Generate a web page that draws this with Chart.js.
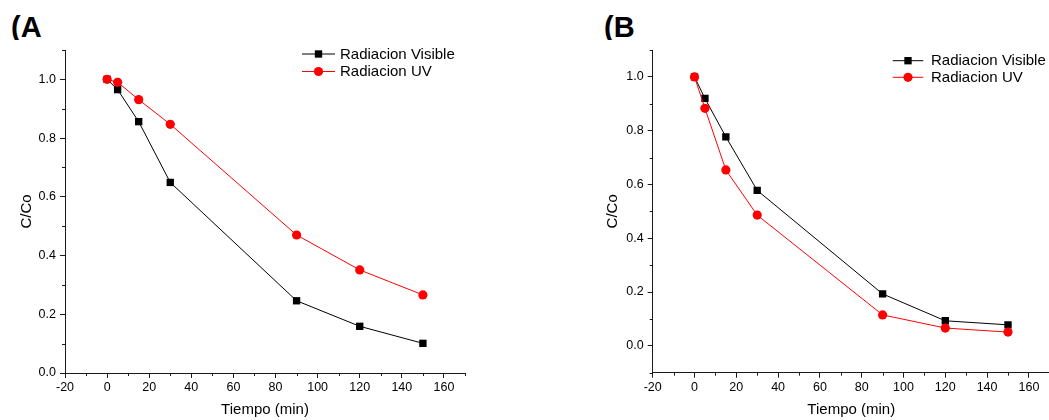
<!DOCTYPE html>
<html>
<head>
<meta charset="utf-8">
<script src="https://cdn.jsdelivr.net/npm/chart.js@4.4.1/dist/chart.umd.min.js"></script>
<style>
  html, body { margin: 0; padding: 0; background: #fff; }
  body { width: 1049px; height: 420px; position: relative; overflow: hidden; }
  canvas { position: absolute; top: 0; }
  #cA { left: 0; }
  #cB { left: 525px; }
  .plabel { position: absolute; top: 0; height: 40px; overflow: hidden;
    font-family: "Liberation Sans", Arial, sans-serif; font-weight: bold; font-size: 29px; line-height: 1; color: #000; }
  .plabel span { display: block; padding-top: 13px; }
</style>
</head>
<body>
<div class="plabel" style="left:11px;"><span>(A</span></div>
<div class="plabel" style="left:604px;"><span>(B</span></div>
<canvas id="cA" width="525" height="420"></canvas>
<canvas id="cB" width="530" height="420"></canvas>
<script>
// ---- data ----
const timeMin   = [0, 5, 15, 30, 90, 120, 150];
const visibleA  = [1.0, 0.965, 0.856, 0.649, 0.246, 0.159, 0.101];
const uvA       = [1.0, 0.990, 0.931, 0.847, 0.470, 0.351, 0.266];
const visibleB  = [1.0, 0.920, 0.777, 0.578, 0.193, 0.093, 0.078];
const uvB       = [1.0, 0.883, 0.654, 0.486, 0.115, 0.066, 0.051];
const seriesNames = ['Radiacion Visible', 'Radiacion UV'];
const xTicks      = [-20, 0, 20, 40, 60, 80, 100, 120, 140, 160];
const xMinorTicks = [-10, 10, 30, 50, 70, 90, 110, 130, 150, 170];
const yTicks      = [0.0, 0.2, 0.4, 0.6, 0.8, 1.0];
const yMinorTicksA = [0.1, 0.3, 0.5, 0.7, 0.9, 1.1];
const yMinorTicksB = [-0.1, 0.1, 0.3, 0.5, 0.7, 0.9, 1.1];
const xTitle = 'Tiempo (min)';
const yTitle = 'C/Co';

const FONT = '"Liberation Sans", Arial, Helvetica, sans-serif';
const AXIS_COLOR = '#1a1a1a';

function pts(ys) { return timeMin.map((t, i) => ({x: t, y: ys[i]})); }

const minorTickPlugin = {
  id: 'minorTicks',
  afterDraw(chart, args, opts) {
    const ctx = chart.ctx;
    const xs = chart.scales.x, ys = chart.scales.y;
    const ca = chart.chartArea;
    ctx.save();
    ctx.strokeStyle = AXIS_COLOR;
    ctx.lineWidth = 1;
    ctx.beginPath();
    (opts.x || []).forEach(v => {
      const px = Math.round(xs.getPixelForValue(v)) + 0.5;
      ctx.moveTo(px, ca.bottom); ctx.lineTo(px, ca.bottom + 3);
    });
    (opts.y || []).forEach(v => {
      const py = Math.round(ys.getPixelForValue(v)) + 0.5;
      ctx.moveTo(ca.left, py); ctx.lineTo(ca.left - 3, py);
    });
    ctx.stroke();
    ctx.restore();
  }
};

const customLegendPlugin = {
  id: 'customLegend',
  afterDraw(chart, args, opts) {
    const ctx = chart.ctx;
    ctx.save();
    ctx.font = '15px ' + FONT;
    ctx.textBaseline = 'middle';
    ctx.textAlign = 'left';
    const order = [1, 0]; // dataset indices in legend order (Visible first)
    order.forEach((di, row) => {
      const ds = chart.data.datasets[di];
      const y = opts.y + row * opts.rowGap;
      ctx.strokeStyle = ds.borderColor;
      ctx.lineWidth = 1;
      ctx.beginPath();
      ctx.moveTo(opts.x1, y); ctx.lineTo(opts.x2, y);
      ctx.stroke();
      const cx = (opts.x1 + opts.x2) / 2;
      ctx.fillStyle = ds.pointBackgroundColor;
      if (ds.pointStyle === 'rect') {
        const s = ds.pointRadius * Math.SQRT1_2;
        ctx.fillRect(cx - s, y - s, 2 * s, 2 * s);
      } else {
        ctx.beginPath();
        ctx.arc(cx, y, ds.pointRadius, 0, Math.PI * 2);
        ctx.fill();
      }
      ctx.fillStyle = '#000';
      ctx.fillText(ds.label, opts.textX, y + 0.5);
    });
    ctx.restore();
  }
};

function makeChart(id, vis, uv, cfg) {
  return new Chart(document.getElementById(id), {
    type: 'line',
    data: {
      datasets: [
        {
          label: seriesNames[1], data: pts(uv), order: 1,
          borderColor: '#ff0000', backgroundColor: '#ff0000',
          pointBackgroundColor: '#ff0000', pointBorderColor: '#ff0000',
          pointStyle: 'circle', pointRadius: 4.6, pointBorderWidth: 0,
          borderWidth: 1, tension: 0, fill: false
        },
        {
          label: seriesNames[0], data: pts(vis), order: 2,
          borderColor: '#000000', backgroundColor: '#000000',
          pointBackgroundColor: '#000000', pointBorderColor: '#000000',
          pointStyle: 'rect', pointRadius: 5.2, pointBorderWidth: 0,
          borderWidth: 1, tension: 0, fill: false
        }
      ]
    },
    options: {
      responsive: false,
      animation: false,
      events: [],
      layout: { padding: cfg.padding },
      plugins: {
        legend: { display: false },
        tooltip: { enabled: false },
        minorTicks: { x: xMinorTicks, y: cfg.yMinor },
        customLegend: cfg.legend
      },
      scales: {
        x: {
          type: 'linear', min: -20, max: 170,
          afterBuildTicks: s => { s.ticks = xTicks.map(v => ({value: v})); },
          afterFit: s => { s.height = cfg.xHeight; },
          grid: { display: true, drawOnChartArea: false, drawTicks: true, tickLength: 5, color: AXIS_COLOR, tickWidth: 1 },
          border: { display: true, color: AXIS_COLOR, width: 1 },
          ticks: { autoSkip: false, maxRotation: 0, padding: 2, color: '#000',
            font: { family: FONT, size: 12.5 }, callback: v => String(v) },
          title: { display: true, text: xTitle, color: '#000', font: { family: FONT, size: 15 },
            padding: { top: 0, bottom: 1 } }
        },
        y: {
          type: 'linear', min: cfg.yMin, max: 1.1,
          afterBuildTicks: s => { s.ticks = yTicks.map(v => ({value: v})); },
          afterFit: s => { s.width = 65; },
          grid: { display: true, drawOnChartArea: false, drawTicks: true, tickLength: 5, color: AXIS_COLOR, tickWidth: 1 },
          border: { display: true, color: AXIS_COLOR, width: 1 },
          ticks: { autoSkip: false, padding: 4, color: '#000',
            font: { family: FONT, size: 12.5 }, callback: v => Number(v).toFixed(1) },
          title: { display: true, text: yTitle, color: '#000', font: { family: FONT, size: 15 },
            padding: { top: cfg.yTitlePad, bottom: 0 } }
        }
      }
    },
    plugins: [minorTickPlugin, customLegendPlugin]
  });
}

makeChart('cA', visibleA, uvA, {
  padding: { left: 0, top: 50, right: 60, bottom: 0 },
  xHeight: 47, yMin: 0, yMinor: yMinorTicksA, yTitlePad: 18,
  legend: { x1: 302, x2: 335, textX: 340, y: 54, rowGap: 17.5 }
});
makeChart('cB', visibleB, uvB, {
  padding: { left: 62.7, top: 50, right: 3.3, bottom: 0 },
  xHeight: 47.3, yMin: -0.1, yMinor: yMinorTicksB, yTitlePad: 16,
  legend: { x1: 367.7, x2: 398.3, textX: 406, y: 60.7, rowGap: 16.6 }
});
</script>
</body>
</html>
